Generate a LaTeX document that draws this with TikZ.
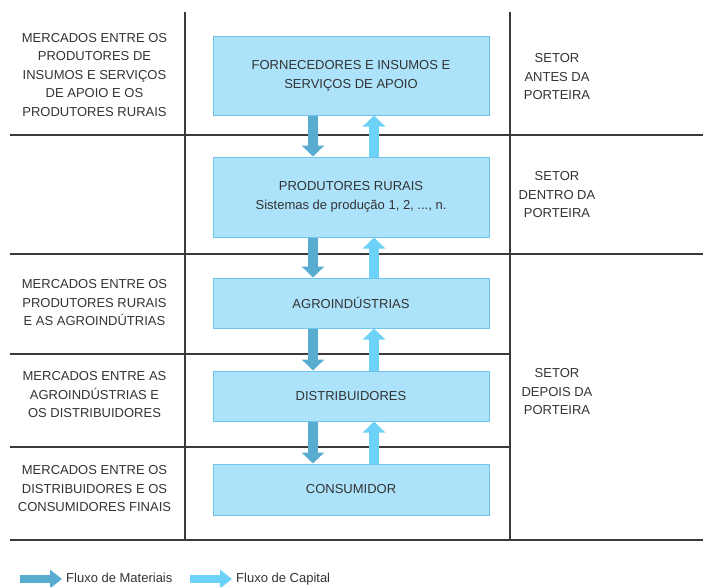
\documentclass[tikz,border=0pt]{standalone}
\usepackage{fontspec}
\setmainfont{Liberation Sans}
\usetikzlibrary{arrows.meta}
\definecolor{boxfill}{HTML}{ACE2FA}
\definecolor{boxdraw}{HTML}{6EC4EA}
\definecolor{matc}{HTML}{58ACD0}
\definecolor{capc}{HTML}{6DD2F8}
\definecolor{txt}{HTML}{333333}
\definecolor{rulec}{HTML}{3A3A3A}
\begin{document}
\begin{tikzpicture}[x=1pt,y=-1pt,
  stage/.style={draw=boxdraw, fill=boxfill, line width=1pt, minimum width=276pt,
    text=txt, align=center, font=\fontsize{13}{18.5}\selectfont, inner sep=0pt},
  lab/.style={text=txt, align=center, font=\fontsize{13}{18.5}\selectfont, inner sep=0pt},
  legtext/.style={text=txt, font=\fontsize{13}{15}\selectfont, inner sep=0pt, anchor=base west},
  gridline/.style={draw=rulec, line width=1.3pt},
  matflow/.style={draw=matc, line width=10pt, -{Triangle[width=22pt,length=11pt]}},
  capflow/.style={draw=capc, line width=10pt, -{Triangle[width=22pt,length=11pt]}}
]
\useasboundingbox (0,0) rectangle (703,586);
% grid
\draw[gridline] (185,12) -- (185,540);
\draw[gridline] (510,12) -- (510,540);
\draw[gridline] (10,135) -- (703,135);
\draw[gridline] (10,254) -- (703,254);
\draw[gridline] (10,354) -- (510,354);
\draw[gridline] (10,447) -- (510,447);
\draw[gridline] (10,540) -- (703,540);
% stage boxes
\node[stage, minimum height=78pt] (forn) at (351,76) {FORNECEDORES E INSUMOS E\\SERVIÇOS DE APOIO};
\node[stage, minimum height=80pt] (prod) at (351,197) {PRODUTORES RURAIS\\Sistemas de produção 1, 2, ..., n.};
\node[stage, minimum height=50pt] (agro) at (351,303) {AGROINDÚSTRIAS};
\node[stage, minimum height=50pt] (dist) at (351,396) {DISTRIBUIDORES};
\node[stage, minimum height=51pt] (cons) at (351,489.5) {CONSUMIDOR};
% left labels
\node[lab] (l1) at (94.5,75) {MERCADOS ENTRE OS\\PRODUTORES DE\\INSUMOS E SERVIÇOS\\DE APOIO E OS\\PRODUTORES RURAIS};
\node[lab] (l3) at (94.5,303) {MERCADOS ENTRE OS\\PRODUTORES RURAIS\\E AS AGROINDÚTRIAS};
\node[lab] (l4) at (94.5,395) {MERCADOS ENTRE AS\\AGROINDÚSTRIAS E\\OS DISTRIBUIDORES};
\node[lab] (l5) at (94.5,489) {MERCADOS ENTRE OS\\DISTRIBUIDORES E OS\\CONSUMIDORES FINAIS};
% right labels
\node[lab] (r1) at (557,77) {SETOR\\ANTES DA\\PORTEIRA};
\node[lab] (r2) at (557,195) {SETOR\\DENTRO DA\\PORTEIRA};
\node[lab] (r3) at (557,392) {SETOR\\DEPOIS DA\\PORTEIRA};
% flow arrows
\coordinate (mx) at (313,0);
\coordinate (cx) at (374,0);
\draw[matflow] (forn.south -| mx) -- (prod.north -| mx);
\draw[capflow] (prod.north -| cx) -- (forn.south -| cx);
\draw[matflow] (prod.south -| mx) -- (agro.north -| mx);
\draw[capflow] (agro.north -| cx) -- (prod.south -| cx);
\draw[matflow] (agro.south -| mx) -- (dist.north -| mx);
\draw[capflow] (dist.north -| cx) -- (agro.south -| cx);
\draw[matflow] (dist.south -| mx) -- (cons.north -| mx);
\draw[capflow] (cons.north -| cx) -- (dist.south -| cx);
% legend
\node[legtext] (lm) at (66,582.5) {Fluxo de Materiais};
\node[legtext] (lc) at (236,582.5) {Fluxo de Capital};
\coordinate (lms) at (20,579);
\coordinate (lcs) at (190,579);
\draw[matflow, line width=8pt, -{Triangle[width=18pt,length=12pt]}] (lms) -- ([xshift=-4pt]lm.west |- lms);
\draw[capflow, line width=8pt, -{Triangle[width=18pt,length=12pt]}] (lcs) -- ([xshift=-4pt]lc.west |- lcs);
\end{tikzpicture}
\end{document}
